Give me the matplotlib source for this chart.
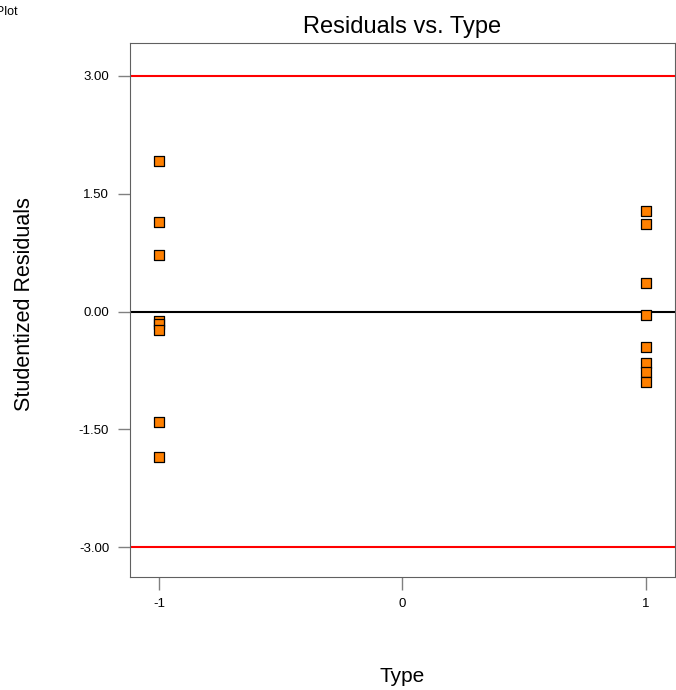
import matplotlib
matplotlib.use('Agg')
import matplotlib.pyplot as plt

# Studentized residuals, grouped by Type level
type_low = [-1] * 8
resid_low = [1.92, 1.14, 0.72, -0.12, -0.16, -0.23, -1.41, -1.85]
type_high = [1] * 8
resid_high = [1.28, 1.11, 0.36, -0.04, -0.45, -0.66, -0.77, -0.90]

limit = 3.0
yticks = [3.0, 1.5, 0.0, -1.5, -3.0]
xticks = [-1, 0, 1]

plt.rcParams['font.family'] = ['Liberation Sans', 'DejaVu Sans']

fig = plt.figure(figsize=(6.76, 6.90), dpi=100)
ax = fig.add_axes([0.1923, 0.1638, 0.8062, 0.7739])

ax.axhline(limit, color='#ff0000', lw=1.5, zorder=1)
ax.axhline(-limit, color='#ff0000', lw=1.5, zorder=1)
ax.axhline(0, color='black', lw=1.5, zorder=1)

ax.scatter(type_low + type_high, resid_low + resid_high, marker='s', s=62,
           facecolor='#ff8000', edgecolor='black', linewidth=0.9, zorder=3)

ax.set_xlim(-1.12, 1.12)
ax.set_ylim(-3.38, 3.42)
ax.set_xticks(xticks)
ax.set_xticklabels([str(t) for t in xticks], fontsize=9.5)
ax.set_yticks(yticks)
ax.set_yticklabels([f'{t:.2f}' for t in yticks], fontsize=9.5)
ax.tick_params(direction='out', length=9, width=1, color='#808080', pad=6)
for sp in ax.spines.values():
    sp.set_color('#606060')

ax.set_title('Residuals vs. Type', fontsize=17, pad=7)
fig.text(25 / 676, 1 - 304 / 690, 'Studentized Residuals', rotation=90,
         ha='center', va='center', fontsize=15.5)
fig.text(402 / 676, 1 - 677 / 690, 'Type', ha='center', va='center', fontsize=15)
fig.text(18 / 676, 1 - 12 / 690, 'Design-Expert Plot', ha='right', va='center', fontsize=9)

fig.savefig('out.png', dpi=100)
